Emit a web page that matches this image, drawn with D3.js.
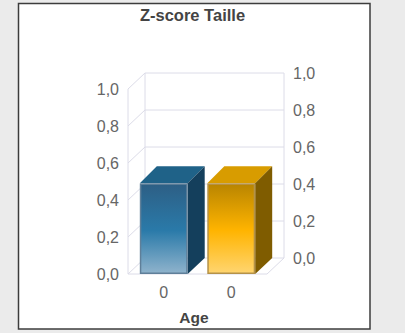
<!DOCTYPE html>
<html>
<head>
<meta charset="utf-8">
<script src="https://cdnjs.cloudflare.com/ajax/libs/d3/7.8.5/d3.min.js"></script>
<style>
  html, body { margin: 0; padding: 0; background: #ebebeb; overflow: hidden; }
  text { font-family: "Liberation Sans", Arial, sans-serif; }
</style>
</head>
<body>
<div id="chart"></div>
<script>
var categories = ["0", "0"]
var values = [0.49, 0.49]
var yTicks = [0, 0.2, 0.4, 0.6, 0.8, 1]
var titleText = "Z-score Taille"
var xTitleText = "Age"

var width = 405
var height = 333

// 3d depth of the box, back wall sits up and to the right of the front plane
var depthX = 17
var depthY = -16
var barDepthY = -17

var barPalette = [
    {top: "#1f6288", side: "#143f5c", edge: "#5f7f99", stops: ["#2d5f85", "#2a7aa9", "#8fb3cc"]},
    {top: "#d89c00", side: "#7f5c00", edge: "#b59248", stops: ["#b98500", "#ffb400", "#ffd570"]}
]

var svg = d3.select("#chart")
    .append("svg")
    .attr("width", width)
    .attr("height", height)
    .style("display", "block")

svg.append("rect")
    .attr("x", 18.5)
    .attr("y", 3.5)
    .attr("width", 351.5)
    .attr("height", 325.5)
    .style("fill", "#fff")
    .style("stroke", "#3c3c3c")
    .style("stroke-width", 1.5)

var x = d3.scaleBand()
    .domain(d3.range(categories.length))
    .range([128, 267])
    .paddingInner(0.29)
    .paddingOuter(0.175)

var y = d3.scaleLinear()
    .domain([0, 1])
    .range([274, 89])

var comma = d3.formatLocale({decimal: ",", thousands: ".", grouping: [3], currency: ["", ""]}).format(".1f")

var gridColor = "#dcdce8"
var xLeft = x.range()[0]
var xRight = x.range()[1]

// back wall gridlines and the slanted lines on the left wall
var grid = svg.append("g").style("stroke", gridColor).style("fill", "none")
yTicks.forEach(function(t) {
    grid.append("line")
        .attr("x1", xLeft + depthX).attr("x2", xRight + depthX)
        .attr("y1", y(t) + depthY).attr("y2", y(t) + depthY)
    grid.append("line")
        .attr("x1", xLeft).attr("x2", xLeft + depthX)
        .attr("y1", y(t)).attr("y2", y(t) + depthY)
})
grid.append("line")
    .attr("x1", xLeft).attr("x2", xLeft)
    .attr("y1", y(0)).attr("y2", y(1))
grid.append("line")
    .attr("x1", xLeft + depthX).attr("x2", xLeft + depthX)
    .attr("y1", y(0) + depthY).attr("y2", y(1) + depthY)
grid.append("line")
    .attr("x1", xRight + depthX).attr("x2", xRight + depthX)
    .attr("y1", y(0) + depthY).attr("y2", y(1) + depthY)
grid.append("line")
    .attr("x1", xLeft).attr("x2", xRight)
    .attr("y1", y(0)).attr("y2", y(0))
grid.append("line")
    .attr("x1", xRight).attr("x2", xRight + depthX)
    .attr("y1", y(0)).attr("y2", y(0) + depthY)

var defs = svg.append("defs")
barPalette.forEach(function(p, i) {
    var g = defs.append("linearGradient")
        .attr("id", "front" + i)
        .attr("x1", 0).attr("x2", 0).attr("y1", 0).attr("y2", 1)
    g.append("stop").attr("offset", "0%").attr("stop-color", p.stops[0])
    g.append("stop").attr("offset", "52%").attr("stop-color", p.stops[1])
    g.append("stop").attr("offset", "100%").attr("stop-color", p.stops[2])
})

var bars = svg.selectAll(".bar")
    .data(values)
    .enter().append("g")
    .attr("class", "bar")

// top face
bars.append("path")
    .style("fill", function(d, i) { return barPalette[i].top })
    .attr("d", function(d, i) {
        var x0 = x(i), x1 = x(i) + x.bandwidth(), yt = y(d)
        return "M" + x0 + "," + yt + "L" + (x0 + depthX) + "," + (yt + barDepthY) +
            "L" + (x1 + depthX) + "," + (yt + barDepthY) + "L" + x1 + "," + yt + "Z"
    })

// side face
bars.append("path")
    .style("fill", function(d, i) { return barPalette[i].side })
    .attr("d", function(d, i) {
        var x1 = x(i) + x.bandwidth(), yt = y(d), yb = y(0)
        return "M" + x1 + "," + yt + "L" + (x1 + depthX) + "," + (yt + barDepthY) +
            "L" + (x1 + depthX) + "," + (yb + depthY) + "L" + x1 + "," + yb + "Z"
    })

// front face
bars.append("rect")
    .attr("x", function(d, i) { return x(i) + 0.75 })
    .attr("y", function(d) { return y(d) + 0.75 })
    .attr("width", x.bandwidth() - 1.5)
    .attr("height", function(d) { return y(0) - y(d) - 1.5 })
    .style("fill", function(d, i) { return "url(#front" + i + ")" })
    .style("stroke", function(d, i) { return barPalette[i].edge })
    .style("stroke-width", 1.5)

// left axis on the front plane
var axisLeft = svg.append("g")
    .attr("transform", "translate(" + xLeft + ",0)")
    .call(d3.axisLeft(y).tickValues(yTicks).tickFormat(comma).tickSize(0).tickPadding(9))
axisLeft.select(".domain").remove()

// right axis on the back wall
var axisRight = svg.append("g")
    .attr("transform", "translate(" + (xRight + depthX) + "," + depthY + ")")
    .call(d3.axisRight(y).tickValues(yTicks).tickFormat(comma).tickSize(0).tickPadding(9))
axisRight.select(".domain").remove()

var axisBottom = svg.append("g")
    .attr("transform", "translate(0,286.5)")
    .call(d3.axisBottom(x).tickFormat(function(d) { return categories[d] }).tickSize(0).tickPadding(0))
axisBottom.select(".domain").remove()

svg.selectAll(".tick text")
    .style("font-size", "16px")
    .style("fill", "#666")

svg.append("text")
    .attr("x", 192.5)
    .attr("y", 21)
    .attr("text-anchor", "middle")
    .style("font-size", "16.5px")
    .style("font-weight", "bold")
    .style("fill", "#444")
    .text(titleText)

svg.append("text")
    .attr("x", 194)
    .attr("y", 322.5)
    .attr("text-anchor", "middle")
    .style("font-size", "15.5px")
    .style("font-weight", "bold")
    .style("fill", "#444")
    .text(xTitleText)
</script>
</body>
</html>
